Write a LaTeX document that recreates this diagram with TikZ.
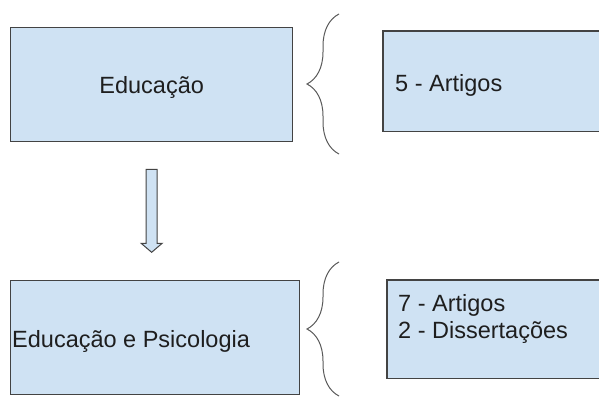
\documentclass[tikz,border=0pt]{standalone}
\usepackage{fontspec}
\setmainfont{Liberation Sans}
\usepackage{tikz}
\usetikzlibrary{
  arrows.meta, positioning, calc, decorations.pathreplacing
}
\usepackage{xcolor}
\definecolor{areablue}{RGB}{207, 226, 243}
\definecolor{arealine}{RGB}{67, 67, 67}
\definecolor{bracegray}{RGB}{89, 89, 89}
\definecolor{textdark}{RGB}{30, 30, 30}

\begin{document}
\begin{tikzpicture}[x=1pt, y=-1pt,
    area/.style={draw=arealine, line width=1.3pt, fill=areablue, inner sep=0pt},
    cutarea/.style={fill=areablue, inner sep=0pt},
    edge/.style={draw=arealine, line width=1.3pt},
    areatext/.style={font=\fontsize{23.5}{27}\selectfont, text=textdark, inner sep=0pt, align=left},
    curly/.style={decorate, decoration={brace, amplitude=32pt}, draw=bracegray, line width=1pt}]
        % Frame
        \useasboundingbox (0,0) rectangle (599,397);
        \clip (0,0) rectangle (599,397);

        % Areas
        \node[area, anchor=north west, minimum width=282, minimum height=114] (educ) at (10,27) {};
        \node[area, anchor=north west, minimum width=289, minimum height=114] (educpsi) at (10,280) {};

        % Counts (cut off at the right edge)
        \node[cutarea, anchor=north west, minimum width=220, minimum height=100] (artigos) at (383,31) {};
        \node[cutarea, anchor=north west, minimum width=216, minimum height=98] (artdiss) at (387,280) {};
        \draw[edge] (artigos.north east) -- (artigos.north west) -- (artigos.south west) -- (artigos.south east);
        \draw[edge] (artdiss.north east) -- (artdiss.north west) -- (artdiss.south west) -- (artdiss.south east);

        % Texts
        \node[areatext] (educ text) at ($(educ.center)+(0,2.5)$) {Educação};
        \node[areatext, anchor=west] (educpsi text) at ($(educpsi.west)+(2,3.5)$) {Educação e Psicologia};
        \node[areatext, anchor=west] (artigos text) at ($(artigos.west)+(12,4)$) {5 - Artigos};
        \node[areatext, anchor=west] (artdiss text) at ($(artdiss.west)+(11,-10.5)$) {7 - Artigos\\2 - Dissertações};

        % Braces
        \draw[curly] (339,154) -- (339,14);
        \draw[curly] (339,396) -- (339,262);

        % Block arrow
        \draw[area, line width=1pt] ($(educ.south)+(-5.5,27)$) -- ++(0,74) -- ++(-5,0)
          -- ($(educ.south)+(0,110)$) -- ++(10.5,-9) -- ++(-5,0) -- ++(0,-74) -- cycle;
      \end{tikzpicture}
\end{document}
